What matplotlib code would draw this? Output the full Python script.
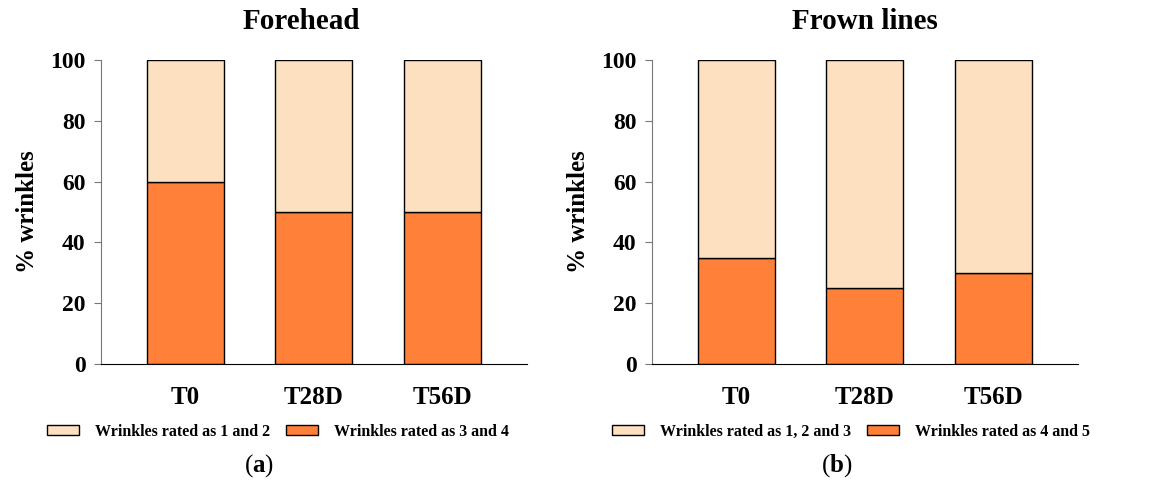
import matplotlib
matplotlib.use('Agg')
import matplotlib.pyplot as plt
import numpy as np

plt.rcParams['font.family'] = ['Liberation Serif', 'DejaVu Serif']
plt.rcParams['mathtext.fontset'] = 'custom'
plt.rcParams['mathtext.bf'] = 'Liberation Serif:bold'
plt.rcParams['mathtext.rm'] = 'Liberation Serif'

categories = ['T0', 'T28D', 'T56D']

forehead_high = [60, 50, 50]
forehead_low = [40, 50, 50]
frown_high = [35, 25, 30]
frown_low = [65, 75, 70]

forehead_labels = ['Wrinkles rated as 1 and 2', 'Wrinkles rated as 3 and 4']
frown_labels = ['Wrinkles rated as 1, 2 and 3', 'Wrinkles rated as 4 and 5']

light = '#FDE0BF'
dark = '#FF8139'

fig = plt.figure(figsize=(11.63, 4.88), dpi=100)


def panel(rect, title, title_x, high, low, labels, legend_x, letter, letter_x):
    ax = fig.add_axes(rect)
    x = np.arange(len(categories))
    b_low = ax.bar(x, high, 0.6, color=dark, edgecolor='black', linewidth=1.0, label=labels[1])
    b_high = ax.bar(x, low, 0.6, bottom=high, color=light, edgecolor='black', linewidth=1.0, label=labels[0])
    ax.set_xlim(-0.66, 2.66)
    ax.set_ylim(0, 100)
    ax.set_yticks([0, 20, 40, 60, 80, 100])
    ax.set_xticks(x)
    ax.set_xticklabels(categories, fontsize=18, fontweight='bold')
    for t in ax.get_yticklabels():
        t.set_fontsize(17)
        t.set_fontweight('bold')
    ax.tick_params(axis='x', length=0, pad=16)
    ax.tick_params(axis='y', length=5, color='#777777', pad=6)
    ax.spines['top'].set_visible(False)
    ax.spines['right'].set_visible(False)
    ax.spines['left'].set_color('#777777')
    ax.spines['bottom'].set_color('black')
    ax.spines['bottom'].set_zorder(5)
    ax.set_ylabel('% wrinkles', fontsize=18, fontweight='bold', labelpad=8)
    ax.set_title(title, fontsize=21, fontweight='bold', pad=22, x=title_x)
    fig.legend([b_high, b_low], labels, loc='center', bbox_to_anchor=(legend_x, 0.115),
               ncol=2, frameon=False, handlelength=2.0, handleheight=0.55,
               handletextpad=1.0, columnspacing=1.0,
               prop={'family': 'Liberation Serif', 'weight': 'bold', 'size': 11.5})
    fig.text(letter_x, 0.045, '(' + r'$\mathbf{' + letter + '}$' + ')',
             ha='center', va='center', fontsize=18)
    return ax


panel([0.0868, 0.2541, 0.3663, 0.623], 'Forehead', 0.47, forehead_high, forehead_low,
      forehead_labels, 0.239, 'a', 0.2227)
panel([0.5606, 0.2541, 0.3663, 0.623], 'Frown lines', 0.5, frown_high, frown_low,
      frown_labels, 0.732, 'b', 0.7197)

fig.savefig('out.png', dpi=100)
